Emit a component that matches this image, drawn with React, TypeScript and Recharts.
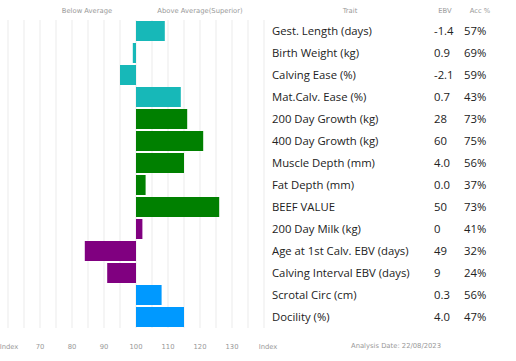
import React from 'react';
import { BarChart, Bar, XAxis, YAxis, CartesianGrid, Cell } from 'recharts';

const traits = [
    'Gest. Length (days)',
    'Birth Weight (kg)',
    'Calving Ease (%)',
    'Mat.Calv. Ease (%)',
    '200 Day Growth (kg)',
    '400 Day Growth (kg)',
    'Muscle Depth (mm)',
    'Fat Depth (mm)',
    'BEEF VALUE',
    '200 Day Milk (kg)',
    'Age at 1st Calv. EBV (days)',
    'Calving Interval EBV (days)',
    'Scrotal Circ (cm)',
    'Docility (%)',
];
const ebvs = ['-1.4', '0.9', '-2.1', '0.7', '28', '60', '4.0', '0.0', '50', '0', '49', '9', '0.3', '4.0'];
const accs = ['57%', '69%', '59%', '43%', '73%', '75%', '56%', '37%', '73%', '41%', '32%', '24%', '56%', '47%'];
const indexValues = [109, 99, 95, 114, 116, 121, 115, 103, 126, 102, 84, 91, 108, 115];
const groups = ['calving', 'calving', 'calving', 'calving', 'growth', 'growth', 'growth', 'growth', 'growth', 'maternal', 'maternal', 'maternal', 'other', 'other'];
const xTicks = [60, 65, 70, 75, 80, 85, 90, 95, 100, 105, 110, 115, 120, 125, 130, 135, 140];

const GROUP_COLORS: Record<string, string> = {
    calving: '#17b8b8',
    growth: '#008000',
    maternal: '#800080',
    other: '#0099ff',
};

const BASE = 100;
const SMALL_FONT = '"DejaVu Sans", Verdana, sans-serif';
const TABLE_FONT = '"Open Sans", sans-serif';

const data = traits.map((trait, i) => ({
    trait,
    ebv: ebvs[i],
    acc: accs[i],
    index: indexValues[i],
    group: groups[i],
}));

function IndexTick(props: any) {
    const { x, y, payload } = props;
    const v = payload.value;
    let label = '';
    if (v === 60 || v === 140) label = 'Index';
    else if (v % 10 === 0) label = String(v);
    if (!label) return null;
    const dx = v === 60 ? 1 : v === 140 ? 4 : 0;
    return (
        <text x={x + dx} y={y} dy={13} textAnchor="middle" fontSize={6.8} fill="#999" fontFamily={SMALL_FONT}>
            {label}
        </text>
    );
}

function TraitTick(props: any) {
    const { y, payload } = props;
    const row = data[payload.index];
    if (!row) return null;
    return (
        <g fontFamily={TABLE_FONT} fontSize={11.3} fill="#222">
            <text x={272} y={y} dy={4}>{row.trait}</text>
            <text x={434} y={y} dy={4}>{row.ebv}</text>
            <text x={464} y={y} dy={4}>{row.acc}</text>
        </g>
    );
}

const smallLabel: React.CSSProperties = {
    position: 'absolute',
    fontFamily: SMALL_FONT,
    fontSize: 6.8,
    color: '#999',
    whiteSpace: 'nowrap',
    transform: 'translateX(-50%)',
};

export default function App() {
    return (
        <div style={{ position: 'absolute', left: 0, top: 0, width: 516, height: 361, background: '#fff' }}>
            <BarChart
                width={516}
                height={361}
                data={data}
                layout="vertical"
                margin={{ top: 20, right: 0, left: 8, bottom: 13 }}
                barSize={20}
            >
                <CartesianGrid vertical horizontal={false} stroke="#ebebeb" />
                <XAxis
                    type="number"
                    domain={[60, 140]}
                    ticks={xTicks}
                    interval={0}
                    height={20}
                    axisLine={false}
                    tickLine={false}
                    tick={<IndexTick />}
                />
                <YAxis
                    type="category"
                    dataKey="trait"
                    orientation="right"
                    width={252}
                    axisLine={false}
                    tickLine={false}
                    interval={0}
                    tick={<TraitTick />}
                />
                <Bar
                    dataKey={(d: any) => [Math.min(BASE, d.index), Math.max(BASE, d.index)]}
                    isAnimationActive={false}
                >
                    {data.map((d, i) => (
                        <Cell key={`cell-${i}`} fill={GROUP_COLORS[d.group]} />
                    ))}
                </Bar>
            </BarChart>
            <div style={{ ...smallLabel, left: 87, top: 7 }}>Below Average</div>
            <div style={{ ...smallLabel, left: 200, top: 7 }}>Above Average(Superior)</div>
            <div style={{ ...smallLabel, left: 350, top: 7 }}>Trait</div>
            <div style={{ ...smallLabel, left: 445, top: 7 }}>EBV</div>
            <div style={{ ...smallLabel, left: 480, top: 7 }}>Acc %</div>
            <div style={{ ...smallLabel, left: 396, top: 342 }}>Analysis Date: 22/08/2023</div>
        </div>
    );
}
